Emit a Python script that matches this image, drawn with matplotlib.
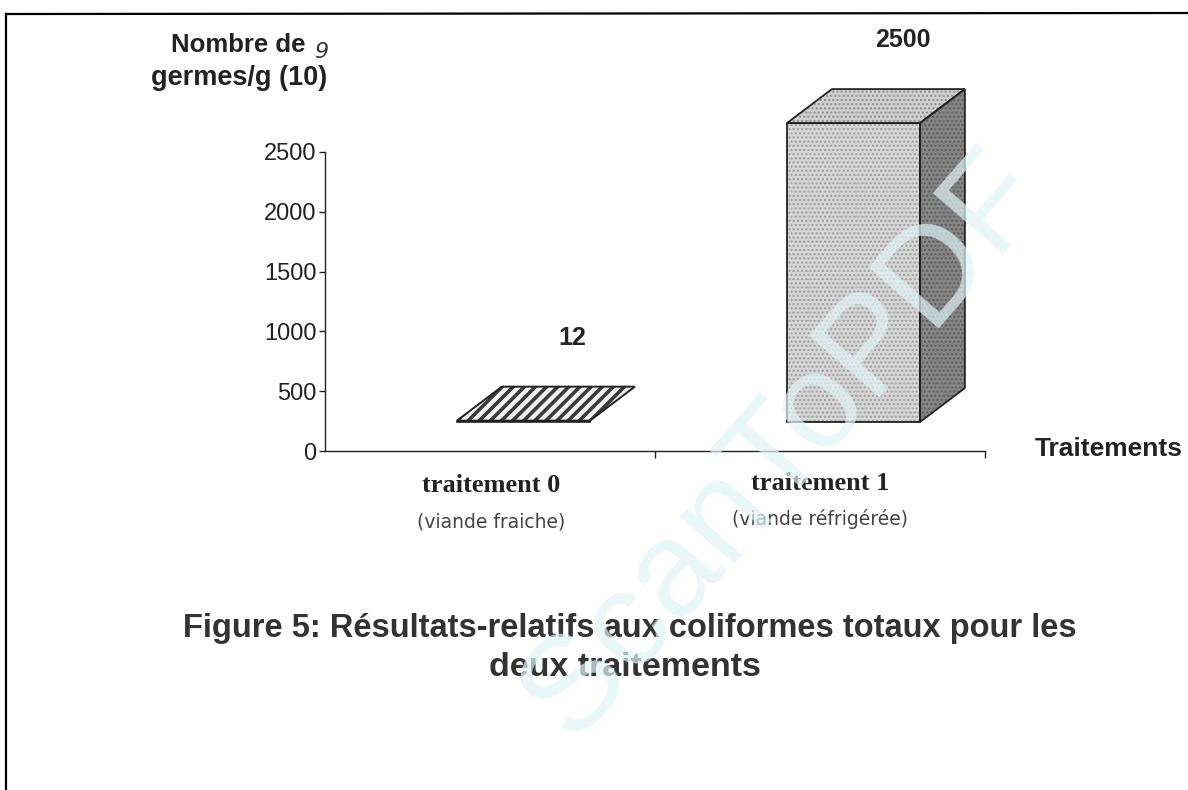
import matplotlib
matplotlib.use("Agg")
import matplotlib.pyplot as plt
from matplotlib.patches import Polygon
from matplotlib.lines import Line2D

# ---- data ----
categories = ["traitement 0", "traitement 1"]
subtitles = ["(viande fraiche)", "(viande réfrigérée)"]
values = [12, 2500]
value_labels = ["12", "2500"]
yticks = [0, 500, 1000, 1500, 2000, 2500]

W, H = 1188, 790
fig = plt.figure(figsize=(W / 100, H / 100), dpi=100)
fig.patch.set_facecolor("white")

def fx(px):
    return px / W

def fy(py):
    return 1 - py / H

# page border of the scan
fig.add_artist(Line2D([fx(6), fx(1188)], [fy(14), fy(13)], color="black", lw=1.6, transform=fig.transFigure))
fig.add_artist(Line2D([fx(6), fx(6)], [fy(14), fy(790)], color="black", lw=1.6, transform=fig.transFigure))

ax = fig.add_axes([fx(325), fy(451), (985 - 325) / W, (451 - 152) / H])
ax.set_xlim(0, 2)
ax.set_ylim(0, 2500)
ax.set_facecolor("none")
for s in ["top", "right"]:
    ax.spines[s].set_visible(False)
for s in ["left", "bottom"]:
    ax.spines[s].set_color("#222222")
    ax.spines[s].set_linewidth(1.0)
ax.set_yticks(yticks)
ax.set_yticklabels([str(t) for t in yticks], fontsize=17, family="Liberation Sans", color="#222222")
ax.tick_params(axis="y", length=4, width=1, pad=2, colors="#222222")
ax.set_xticks([1, 2])
ax.set_xticklabels([])
ax.tick_params(axis="x", length=5, width=1, colors="#222222")

# pseudo-3D geometry (in data units)
bar_left = -0.10
bar_w = 0.403
depth_dx = 0.136
depth_dy = 284
floor = 242

for i, (v, lab) in enumerate(zip(values, value_labels)):
    c = i + 0.5
    x0 = c + bar_left
    x1 = x0 + bar_w
    y0 = floor
    y1 = floor + v
    front = [(x0, y0), (x1, y0), (x1, y1), (x0, y1)]
    top = [(x0, y1), (x1, y1), (x1 + depth_dx, y1 + depth_dy), (x0 + depth_dx, y1 + depth_dy)]
    side = [(x1, y0), (x1 + depth_dx, y0 + depth_dy), (x1 + depth_dx, y1 + depth_dy), (x1, y1)]
    if i == 0:
        with plt.rc_context({"hatch.linewidth": 2.6}):
            p = Polygon(top, closed=True, facecolor="#f2f2f2", edgecolor="#3a3a3a",
                        hatch="///", lw=0, clip_on=False, zorder=3)
            ax.add_patch(p)
        ax.add_patch(Polygon(top, closed=True, facecolor="none", edgecolor="#222222",
                             lw=1.4, clip_on=False, zorder=4))
        ax.add_patch(Polygon(front, closed=True, facecolor="#666666", edgecolor="#222222",
                             lw=1.2, clip_on=False, zorder=4))
    else:
        ax.add_patch(Polygon(front, closed=True, facecolor="#d6d6d6", edgecolor="#9a9a9a",
                             hatch="....", lw=0, clip_on=False, zorder=3))
        ax.add_patch(Polygon(top, closed=True, facecolor="#d0d0d0", edgecolor="#8a8a8a",
                             hatch="....", lw=0, clip_on=False, zorder=3))
        ax.add_patch(Polygon(side, closed=True, facecolor="#858585", edgecolor="#5a5a5a",
                             hatch="....", lw=0, clip_on=False, zorder=3))
        for poly in (front, top, side):
            ax.add_patch(Polygon(poly, closed=True, facecolor="none", edgecolor="#222222",
                                 lw=1.3, clip_on=False, zorder=4))
    ax.annotate(lab, xy=(c + 0.25, y1 + depth_dy), xytext=(0, 35), textcoords="offset points",
                ha="center", va="center", fontsize=18, fontweight="bold",
                family="Liberation Sans", color="#222222", annotation_clip=False)

# category labels
cat_px = [(491, 486, 522), (820, 483, 519)]
for (cx, ty, sy), cat, sub in zip(cat_px, categories, subtitles):
    fig.text(fx(cx), fy(ty), cat, ha="center", va="center", fontsize=19, fontweight="bold",
             family="Liberation Serif", color="#222222")
    fig.text(fx(cx), fy(sy), sub, ha="center", va="center", fontsize=13.5,
             family="DejaVu Sans", color="#444444")

# axis titles
fig.text(fx(238), fy(45), "Nombre de", ha="center", va="center", fontsize=18.5, fontweight="bold",
         family="Liberation Sans", color="#222222")
fig.text(fx(321), fy(52), "9", ha="center", va="center", fontsize=16, style="italic",
         family="DejaVu Sans", color="#333333")
fig.text(fx(239), fy(78), "germes/g (10)", ha="center", va="center", fontsize=19.5, fontweight="bold",
         family="Liberation Sans", color="#222222")
fig.text(fx(1035), fy(449), "Traitements", ha="left", va="center", fontsize=19, fontweight="bold",
         family="Liberation Sans", color="#222222")

# caption
fig.text(fx(630), fy(628), "Figure 5: Résultats-relatifs aux coliformes totaux pour les",
         ha="center", va="center", fontsize=23.5, fontweight="bold", family="Liberation Sans", color="#333333")
fig.text(fx(625), fy(668), "deux traitements",
         ha="center", va="center", fontsize=24.5, fontweight="bold", family="Liberation Sans", color="#333333")

# scanner watermark
fig.text(fx(785), fy(445), "ScanToPDF", ha="center", va="center", fontsize=98, rotation=49,
         family="Liberation Sans", color="#e2f4f7", alpha=0.7, zorder=10)

fig.savefig("out.png", dpi=100)
